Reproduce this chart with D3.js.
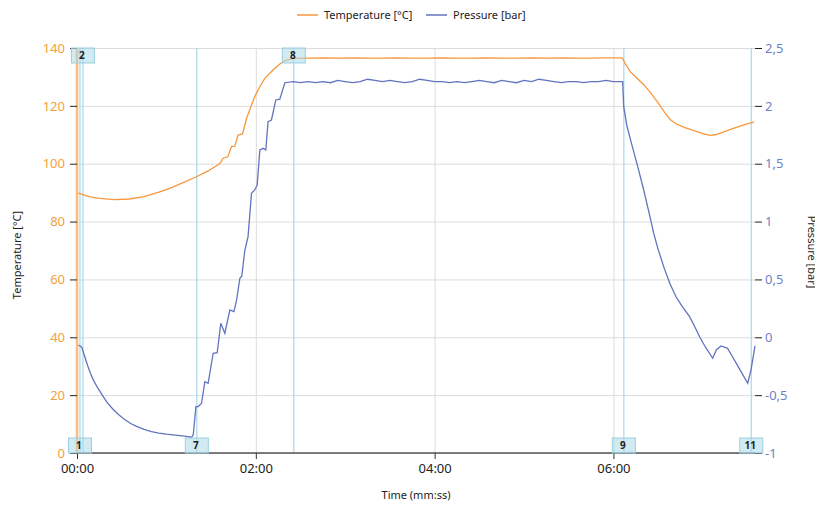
<!DOCTYPE HTML>
<html>

<head>
  <title>Temperature / Pressure</title>
  <meta charset="UTF-8">
</head>
<script src="https://d3js.org/d3.v7.min.js"></script>

<style>
body {
  margin: 0;
  background: #fff;
}

text {
  font-family: "Noto Sans", "DejaVu Sans", sans-serif;
}

.grid line {
  stroke: #dcdcdc;
  stroke-width: 1;
}

.grid .domain {
  display: none;
}

.marker-line {
  stroke: #a9d8e8;
  stroke-width: 1.2;
}

.marker-box {
  fill: #add8e6;
  fill-opacity: 0.55;
  stroke: #9ccfe0;
}
</style>

<body>
  <svg width="815" height="506"></svg>
  <script>
    // time in seconds, temperature in °C
    var tempTime = [0, 4, 8.7, 15, 25, 35, 45, 55, 62.3, 70, 80.2, 88, 95.9, 98.1, 101.2, 103.7, 105.9,
      108.1, 111.1, 113.8, 117.1, 119.3, 122.7, 126, 131.6, 136.1, 139.5, 145, 155, 165, 175, 185, 195,
      205, 215, 225, 235, 245, 255, 265, 275, 285, 295, 305, 315, 325, 335, 345, 355, 365.4, 366.2,
      368, 371, 375, 380, 385, 390, 394, 398, 402, 408, 415, 421, 425, 429, 434, 440, 447, 454.5]
    var tempValue = [90, 89.3, 88.5, 88, 87.6, 87.8, 88.6, 90.2, 91.5, 93.2, 95.5, 97.5, 100.1, 101.9, 102.4, 105.9, 106.1,
      109.9, 110.3, 115.7, 120.3, 123.2, 126.6, 129.5, 132.4, 134.5, 135.6, 136.4, 136.5, 136.6, 136.5, 136.6, 136.5,
      136.5, 136.6, 136.5, 136.5, 136.6, 136.5, 136.5, 136.6, 136.5, 136.5, 136.6, 136.5, 136.6, 136.5, 136.5, 136.6, 136.6, 136.4,
      134.5, 132, 130, 127.5, 124.5, 121, 118, 115.3, 113.8, 112.5, 111.3, 110.2, 109.8, 110.1, 111, 112.1, 113.3, 114.5]

    // time in seconds, pressure in bar
    var presTime = [0.9, 3.2, 5, 7, 9, 11, 14, 17, 20, 24, 28, 32, 36, 40, 45, 50, 55, 60, 66, 72, 76.9,
      78, 79.8, 81.3, 83.6, 85.8, 88, 91.4,
      94.1, 96.5, 99.2, 102.6, 105.3, 107.1, 109.3, 110.6, 112.6, 114.8, 117.1, 119.3, 120.9, 122.7, 124.9,
      126.7, 128.2, 130.5, 133.4, 136.1, 139.5, 145, 150, 155, 160, 165, 170, 175, 180, 185, 190, 195, 200,
      205, 210, 215, 220, 225, 230, 235, 240, 245, 250, 255, 260, 265, 270, 275, 280, 285, 290, 295, 300,
      305, 310, 315, 320, 325, 330, 335, 340, 345, 350, 355, 360, 366.2,
      366.9, 369, 372, 376, 380, 384, 387, 390, 394, 398, 402, 406, 411, 415, 418, 422, 426.6,
      429, 432.2, 436.6, 440, 444, 450.1, 452.3, 455]
    var presValue = [-0.067, -0.085, -0.16, -0.24, -0.31, -0.37, -0.44, -0.5, -0.56, -0.62, -0.67, -0.71, -0.745, -0.77,
      -0.795, -0.815, -0.828, -0.837, -0.846, -0.855, -0.864,
      -0.844, -0.6, -0.6, -0.57, -0.384, -0.398, -0.138,
      -0.133, 0.121, 0.035, 0.236, 0.221, 0.322, 0.51, 0.53, 0.75, 0.87, 1.245, 1.273, 1.316, 1.619, 1.633,
      1.619, 1.863, 1.878, 2.051, 2.057, 2.2, 2.21, 2.2, 2.21, 2.2, 2.21, 2.2, 2.22, 2.21, 2.2, 2.21, 2.23, 2.22,
      2.21, 2.22, 2.21, 2.2, 2.21, 2.23, 2.22, 2.21, 2.21, 2.2, 2.21, 2.2, 2.21, 2.22, 2.21, 2.2, 2.22, 2.21, 2.2, 2.22,
      2.21, 2.23, 2.22, 2.21, 2.2, 2.21, 2.21, 2.2, 2.21, 2.21, 2.22, 2.21, 2.21,
      1.993, 1.83, 1.68, 1.49, 1.29, 1.07, 0.9, 0.76, 0.6, 0.46, 0.35, 0.27, 0.18, 0.08, 0.0, -0.09, -0.181,
      -0.11, -0.075, -0.095, -0.17, -0.26, -0.398, -0.283, -0.075]

    var markerLabels = ["1", "2", "7", "8", "9", "11"]
    var markerTimes = [2, 4, 80.4, 145.5, 367, 452.5]
    var markerSides = ["bottom", "top", "bottom", "top", "bottom", "bottom"]

    var tempTicks = [0, 20, 40, 60, 80, 100, 120, 140]
    var presTicks = [-1, -0.5, 0, 0.5, 1, 1.5, 2, 2.5]
    var timeTicks = [0, 120, 240, 360]

    var svg = d3.select("svg")
    var pLeft = 77, pRight = 755, pTop = 48, pBottom = 453

    var x = d3.scaleLinear().domain([0, 455]).range([pLeft, pRight])
    var yT = d3.scaleLinear().domain([0, 140]).range([pBottom, pTop])
    var yP = d3.scaleLinear().domain([-1, 2.5]).range([pBottom, pTop])

    var orange = "#f7983d", blue = "#6273bf"

    function mmss(s) {
      var m = Math.floor(s / 60), r = Math.round(s % 60)
      return d3.format("02")(m) + ":" + d3.format("02")(r)
    }

    // gridlines
    svg.append("g")
      .attr("class", "grid")
      .attr("transform", "translate(" + pLeft + ",0)")
      .call(d3.axisLeft(yT).tickValues(tempTicks).tickSize(-(pRight - pLeft)).tickFormat(""))

    svg.append("g")
      .attr("class", "grid")
      .attr("transform", "translate(0," + pBottom + ")")
      .call(d3.axisBottom(x).tickValues(timeTicks.slice(1)).tickSize(-(pBottom - pTop)).tickFormat(""))

    // marker lines
    var markers = markerLabels.map(function(l, i) {
      return { label: l, t: markerTimes[i], side: markerSides[i] }
    })

    svg.selectAll(".marker-line")
      .data(markers)
      .enter().append("line")
      .attr("class", "marker-line")
      .attr("x1", function(d) { return x(d.t) })
      .attr("x2", function(d) { return x(d.t) })
      .attr("y1", pTop)
      .attr("y2", pBottom)

    // series
    svg.append("clipPath").attr("id", "clip")
      .append("rect").attr("x", pLeft).attr("y", pTop - 1).attr("width", pRight - pLeft + 2).attr("height", pBottom - pTop + 1)

    var tempLine = d3.line()
      .x(function(d, i) { return x(tempTime[i]) })
      .y(function(d) { return yT(d) })

    var presLine = d3.line()
      .x(function(d, i) { return x(presTime[i]) })
      .y(function(d) { return yP(d) })

    svg.append("path")
      .datum(tempValue)
      .attr("clip-path", "url(#clip)")
      .attr("fill", "none")
      .attr("stroke", orange)
      .attr("stroke-width", 1.3)
      .attr("d", tempLine)

    svg.append("path")
      .datum(presValue)
      .attr("clip-path", "url(#clip)")
      .attr("fill", "none")
      .attr("stroke", blue)
      .attr("stroke-width", 1.3)
      .attr("d", presLine)

    // left axis
    var gl = svg.append("g")
      .attr("transform", "translate(" + pLeft + ",0)")
      .call(d3.axisLeft(yT).tickValues(tempTicks).tickSize(7).tickPadding(5))
    gl.select(".domain").attr("stroke", "#f9bb80").attr("stroke-width", 2.5).attr("d", "M0," + pBottom + "V" + pTop)
    gl.selectAll(".tick line").attr("stroke", "#222")
    gl.selectAll(".tick text").attr("fill", "#f5a03f").style("font-size", "13px")

    // right axis
    var gr = svg.append("g")
      .attr("transform", "translate(" + pRight + ",0)")
      .call(d3.axisRight(yP).tickValues(presTicks).tickSize(7).tickPadding(3)
        .tickFormat(function(d) { return String(d).replace(".", ",") }))
    gr.select(".domain").remove()
    gr.selectAll(".tick line").attr("stroke", "#222")
    gr.selectAll(".tick text").attr("fill", "#6f7fc6").style("font-size", "13px")

    // bottom axis
    var gb = svg.append("g")
      .attr("transform", "translate(0," + pBottom + ")")
      .call(d3.axisBottom(x).tickValues(timeTicks).tickSize(6).tickPadding(5).tickFormat(mmss))
    gb.select(".domain").attr("stroke", "#555").attr("stroke-width", 1.6).attr("d", "M" + pLeft + ",0H" + pRight)
    gb.selectAll(".tick line").attr("stroke", "#333")
    gb.selectAll(".tick text").attr("fill", "#222").style("font-size", "13px")

    // marker boxes
    var mg = svg.selectAll(".marker")
      .data(markers)
      .enter().append("g")
      .attr("transform", function(d) {
        return "translate(" + x(d.t) + "," + (d.side === "top" ? pTop : pBottom - 15) + ")"
      })
    mg.append("rect")
      .attr("class", "marker-box")
      .attr("x", -11.5)
      .attr("width", 23)
      .attr("height", 15)
    mg.append("text")
      .attr("x", -1)
      .attr("y", 11)
      .attr("text-anchor", "middle")
      .style("font-size", "10px")
      .style("font-weight", "bold")
      .attr("fill", "#222")
      .text(function(d) { return d.label })

    // titles
    svg.append("text")
      .attr("transform", "translate(21,255) rotate(-90)")
      .attr("text-anchor", "middle")
      .style("font-size", "11px")
      .attr("fill", "#222")
      .text("Temperature [°C]")

    svg.append("text")
      .attr("transform", "translate(808,252) rotate(90)")
      .attr("text-anchor", "middle")
      .style("font-size", "11px")
      .attr("fill", "#222")
      .text("Pressure [bar]")

    svg.append("text")
      .attr("x", 416)
      .attr("y", 499)
      .attr("text-anchor", "middle")
      .style("font-size", "11px")
      .attr("fill", "#222")
      .text("Time (mm:ss)")

    // legend
    var legend = [{ name: "Temperature [°C]", color: orange, x: 297 }, { name: "Pressure [bar]", color: blue, x: 426 }]
    var lg = svg.selectAll(".legend")
      .data(legend)
      .enter().append("g")
      .attr("transform", function(d) { return "translate(" + d.x + ",15)" })
    lg.append("line")
      .attr("x2", 21)
      .attr("stroke", function(d) { return d.color })
      .attr("stroke-width", 1.5)
    lg.append("text")
      .attr("x", 27)
      .attr("y", 4)
      .style("font-size", "11px")
      .attr("fill", "#222")
      .text(function(d) { return d.name })
  </script>
</body>

</html>
